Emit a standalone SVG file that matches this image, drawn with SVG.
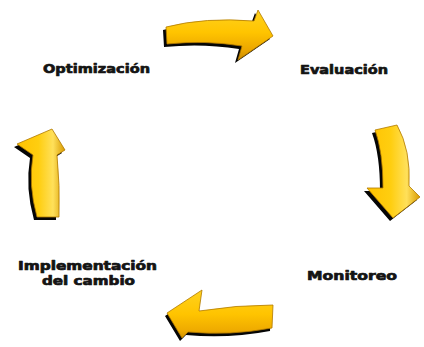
<svg xmlns="http://www.w3.org/2000/svg" width="424" height="347" viewBox="0 0 424 347">
  <style>
    .lbl { font-family: "DejaVu Sans", "Liberation Sans", sans-serif; font-weight: 900; font-size: 12.5px; fill: #141414; stroke: #141414; stroke-width: 0.7; stroke-linejoin: round; }
    .lbl2 { font-size: 12px; }
    .shadow { fill: #050505; }
    .arrow { stroke: #B07800; stroke-width: 0.8; stroke-linejoin: round; }
  </style>
  <defs>
    <!-- gold gradients, lighter on the upper/outer side of each bent arrow -->
    <linearGradient id="gV" x1="0" y1="0" x2="0" y2="1">
      <stop offset="0" stop-color="#FFD21E"/>
      <stop offset="0.45" stop-color="#FFC400"/>
      <stop offset="0.8" stop-color="#EBA600"/>
      <stop offset="1" stop-color="#C98A00"/>
    </linearGradient>
    <linearGradient id="gVb" x1="0" y1="0" x2="0" y2="1">
      <stop offset="0" stop-color="#FFD21E"/>
      <stop offset="0.5" stop-color="#FFC400"/>
      <stop offset="0.85" stop-color="#EEAA00"/>
      <stop offset="1" stop-color="#D09000"/>
    </linearGradient>
    <linearGradient id="gH" x1="0" y1="0" x2="1" y2="0">
      <stop offset="0" stop-color="#FFC200"/>
      <stop offset="0.45" stop-color="#FFCE10"/>
      <stop offset="0.75" stop-color="#FFE05A"/>
      <stop offset="1" stop-color="#D89A00"/>
    </linearGradient>
    <path id="aTop" d="M167,44 L166,27 Q205,17 254,21 L258,10 L273,36 L238,60 L242,46 Q205,40 167,44 Z"/>
    <path id="aRight" d="M375,130 L397,125 Q411,150 409,186 L420,197 L393,218 L367,188 L383,188 Q383,152 375,130 Z"/>
    <path id="aBottom" d="M273,305 Q236,305 199,311 L202,290 L167,313 L182,338 L188,332 Q230,336 272,328 Z"/>
    <path id="aLeft" d="M52,129 L65,150 L57,155 Q60,185 59,217 L37,217 Q28,185 33,155 L17,144 Z"/>
  </defs>

  <!-- cycle connectors: four bent arrows with a dark drop shadow -->
  <g id="connectors">
    <g id="arrow-evaluacion">
      <use href="#aTop" class="shadow" transform="translate(-3,3)"/>
      <use href="#aTop" class="arrow" fill="url(#gV)"/>
    </g>
    <g id="arrow-monitoreo">
      <use href="#aRight" class="shadow" transform="translate(-3,3)"/>
      <use href="#aRight" class="arrow" fill="url(#gH)"/>
    </g>
    <g id="arrow-implementacion">
      <use href="#aBottom" class="shadow" transform="translate(-2,3)"/>
      <use href="#aBottom" class="arrow" fill="url(#gVb)"/>
    </g>
    <g id="arrow-optimizacion">
      <use href="#aLeft" class="shadow" transform="translate(-3,3)"/>
      <use href="#aLeft" class="arrow" fill="url(#gH)"/>
    </g>
  </g>

  <!-- stage labels -->
  <g id="node-optimizacion">
    <text class="lbl" x="43" y="73" textLength="107" lengthAdjust="spacingAndGlyphs">Optimización</text>
  </g>
  <g id="node-evaluacion">
    <text class="lbl" x="300" y="74" textLength="88" lengthAdjust="spacingAndGlyphs">Evaluación</text>
  </g>
  <g id="node-monitoreo">
    <text class="lbl" x="307" y="280" textLength="90" lengthAdjust="spacingAndGlyphs">Monitoreo</text>
  </g>
  <g id="node-implementacion">
    <text class="lbl lbl2" x="18" y="270" textLength="139" lengthAdjust="spacingAndGlyphs">Implementación</text>
    <text class="lbl lbl2" x="42" y="284.5" textLength="93" lengthAdjust="spacingAndGlyphs">del cambio</text>
  </g>
</svg>
